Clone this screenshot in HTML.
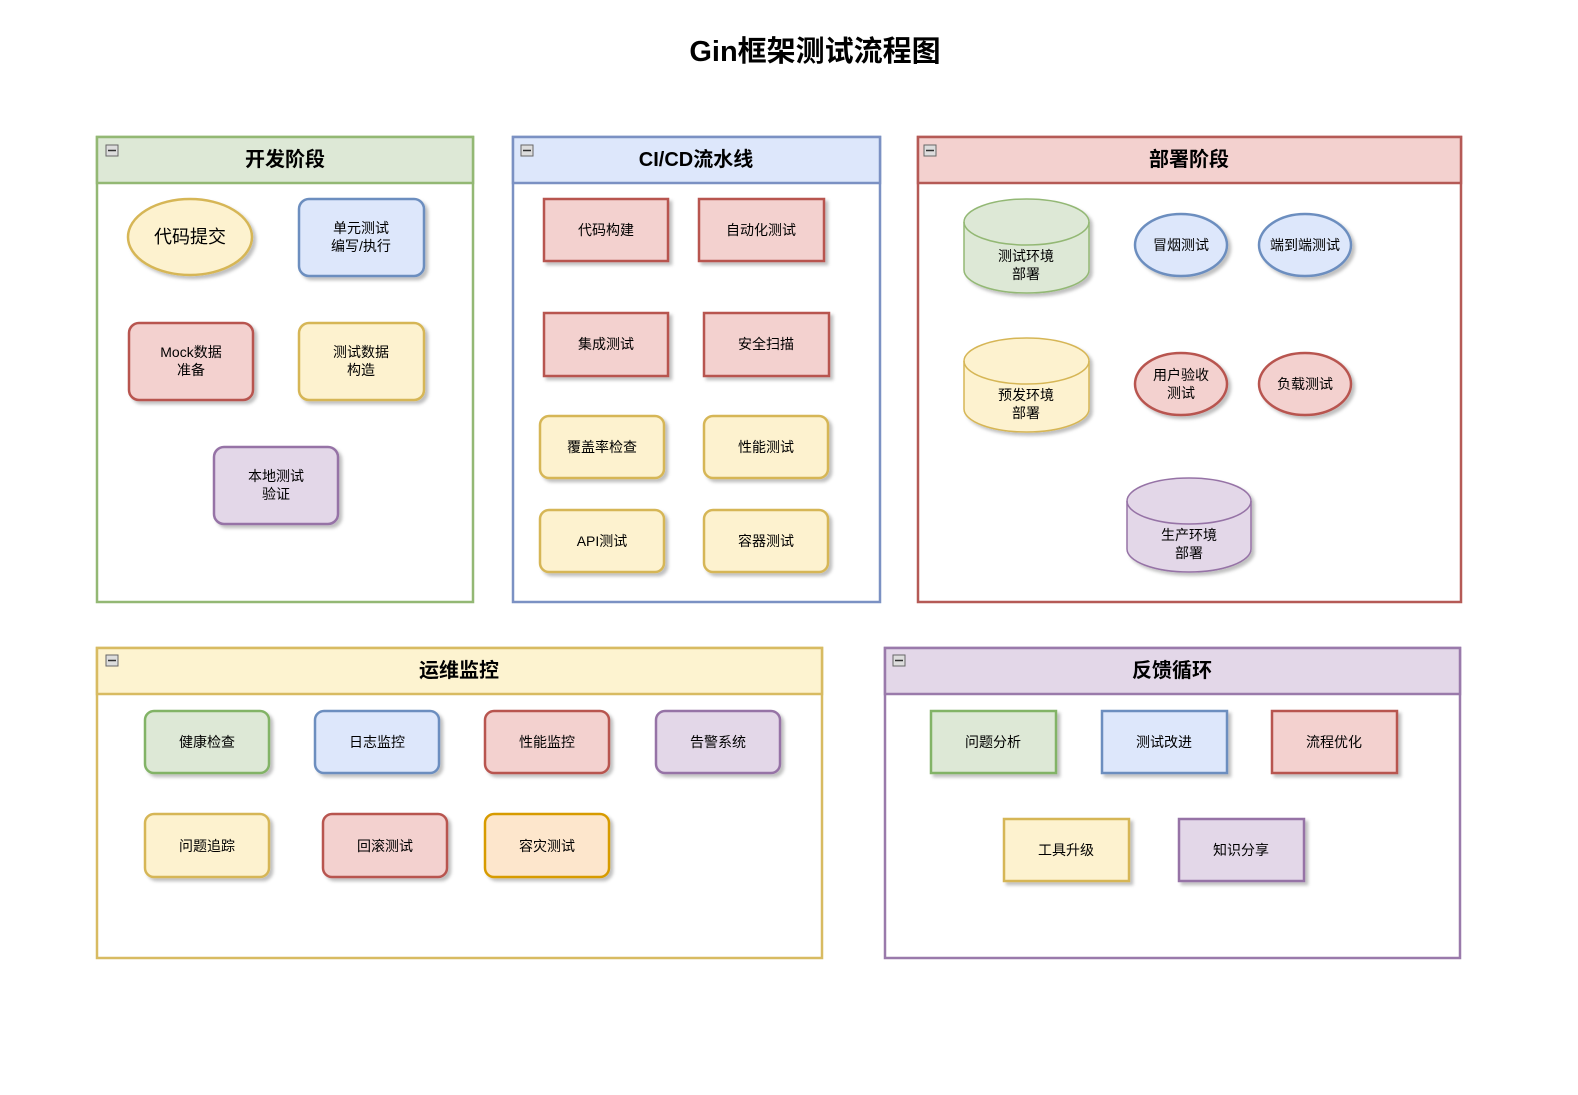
<!DOCTYPE html>
<html><head><meta charset="utf-8"><style>
body{margin:0;background:#fff;}
text{font-family:"Liberation Sans","Noto Sans CJK SC",sans-serif;fill:#000;}
.t{font-size:14px;text-anchor:middle;dominant-baseline:central;}
.h{font-size:20px;font-weight:bold;text-anchor:middle;dominant-baseline:central;}
</style></head><body>
<svg width="1578" height="1090" viewBox="0 0 1578 1090" xmlns="http://www.w3.org/2000/svg">
<defs><filter id="s" x="-20%" y="-20%" width="150%" height="150%"><feDropShadow dx="3" dy="3" stdDeviation="1.5" flood-color="#000" flood-opacity="0.25"/></filter></defs>
<text x="815" y="52" style="font-size:29px;font-weight:bold;text-anchor:middle;dominant-baseline:central">Gin框架测试流程图</text>

<!-- containers -->
<g stroke-width="2.5">
<rect x="97" y="137" width="376" height="465" fill="#fff" stroke="#93b874"/>
<rect x="97" y="137" width="376" height="46" fill="#dde8d6" stroke="#93b874"/>
<rect x="513" y="137" width="367" height="465" fill="#fff" stroke="#7b91c3"/>
<rect x="513" y="137" width="367" height="46" fill="#dde7fb" stroke="#7b91c3"/>
<rect x="918" y="137" width="543" height="465" fill="#fff" stroke="#b55a56"/>
<rect x="918" y="137" width="543" height="46" fill="#f3d1cf" stroke="#b55a56"/>
<rect x="97" y="648" width="725" height="310" fill="#fff" stroke="#d8bb62"/>
<rect x="97" y="648" width="725" height="46" fill="#fdf3d0" stroke="#d8bb62"/>
<rect x="885" y="648" width="575" height="310" fill="#fff" stroke="#9a7aab"/>
<rect x="885" y="648" width="575" height="46" fill="#e3d7e8" stroke="#9a7aab"/>
</g>
<g fill="#ddd" stroke="#666" stroke-width="1">
<rect x="106" y="145" width="12" height="11"/><rect x="521" y="145" width="12" height="11"/><rect x="924" y="145" width="12" height="11"/><rect x="106" y="655" width="12" height="11"/><rect x="893" y="655" width="12" height="11"/>
</g>
<g stroke="#333" stroke-width="1.5">
<line x1="108" y1="150.5" x2="116" y2="150.5"/><line x1="523" y1="150.5" x2="531" y2="150.5"/><line x1="926" y1="150.5" x2="934" y2="150.5"/><line x1="108" y1="660.5" x2="116" y2="660.5"/><line x1="895" y1="660.5" x2="903" y2="660.5"/>
</g>
<text class="h" x="285" y="160">开发阶段</text>
<text class="h" x="696" y="160">CI/CD流水线</text>
<text class="h" x="1189" y="160">部署阶段</text>
<text class="h" x="459" y="671">运维监控</text>
<text class="h" x="1172" y="671">反馈循环</text>

<g stroke-width="2.5" filter="url(#s)">
<!-- dev -->
<ellipse cx="190" cy="237" rx="62" ry="38" fill="#fdf2cf" stroke="#d6b656"/>
<rect x="299" y="199" width="125" height="77" rx="10" fill="#dde7fb" stroke="#6c8ebf"/>
<rect x="129" y="323" width="124" height="77" rx="10" fill="#f3d1cf" stroke="#b85450"/>
<rect x="299" y="323" width="125" height="77" rx="10" fill="#fdf2cf" stroke="#d6b656"/>
<rect x="214" y="447" width="124" height="77" rx="10" fill="#e3d7e8" stroke="#9673a6"/>
<!-- ci -->
<rect x="544" y="199" width="124" height="62" fill="#f3d1cf" stroke="#b85450"/>
<rect x="699" y="199" width="125" height="62" fill="#f3d1cf" stroke="#b85450"/>
<rect x="544" y="313" width="124" height="63" fill="#f3d1cf" stroke="#b85450"/>
<rect x="704" y="313" width="125" height="63" fill="#f3d1cf" stroke="#b85450"/>
<rect x="540" y="416" width="124" height="62" rx="9" fill="#fdf2cf" stroke="#d6b656"/>
<rect x="704" y="416" width="124" height="62" rx="9" fill="#fdf2cf" stroke="#d6b656"/>
<rect x="540" y="510" width="124" height="62" rx="9" fill="#fdf2cf" stroke="#d6b656"/>
<rect x="704" y="510" width="124" height="62" rx="9" fill="#fdf2cf" stroke="#d6b656"/>
<!-- deploy -->
<path d="M964 222 A62.5 23 0 0 1 1089 222 V270 A62.5 23 0 0 1 964 270 Z" fill="#dde8d6" stroke="#93b874" stroke-width="1.5"/>
<path d="M964 361 A62.5 23 0 0 1 1089 361 V409 A62.5 23 0 0 1 964 409 Z" fill="#fdf2cf" stroke="#d6b656" stroke-width="1.5"/>
<path d="M1127 501 A62 23 0 0 1 1251 501 V549 A62 23 0 0 1 1127 549 Z" fill="#e3d7e8" stroke="#9673a6" stroke-width="1.5"/>
<ellipse cx="1181" cy="245" rx="46" ry="31" fill="#dde7fb" stroke="#6c8ebf"/>
<ellipse cx="1305" cy="245" rx="46" ry="31" fill="#dde7fb" stroke="#6c8ebf"/>
<ellipse cx="1181" cy="384" rx="46" ry="31" fill="#f3d1cf" stroke="#b85450"/>
<ellipse cx="1305" cy="384" rx="46" ry="31" fill="#f3d1cf" stroke="#b85450"/>
<!-- ops -->
<rect x="145" y="711" width="124" height="62" rx="9" fill="#dde8d6" stroke="#82b366"/>
<rect x="315" y="711" width="124" height="62" rx="9" fill="#dde7fb" stroke="#6c8ebf"/>
<rect x="485" y="711" width="124" height="62" rx="9" fill="#f3d1cf" stroke="#b85450"/>
<rect x="656" y="711" width="124" height="62" rx="9" fill="#e3d7e8" stroke="#9673a6"/>
<rect x="145" y="814" width="124" height="63" rx="9" fill="#fdf2cf" stroke="#d6b656"/>
<rect x="323" y="814" width="124" height="63" rx="9" fill="#f3d1cf" stroke="#b85450"/>
<rect x="485" y="814" width="124" height="63" rx="9" fill="#fde6cc" stroke="#d79b00"/>
<!-- feedback -->
<rect x="931" y="711" width="125" height="62" fill="#dde8d6" stroke="#82b366"/>
<rect x="1102" y="711" width="125" height="62" fill="#dde7fb" stroke="#6c8ebf"/>
<rect x="1272" y="711" width="125" height="62" fill="#f3d1cf" stroke="#b85450"/>
<rect x="1004" y="819" width="125" height="62" fill="#fdf2cf" stroke="#d6b656"/>
<rect x="1179" y="819" width="125" height="62" fill="#e3d7e8" stroke="#9673a6"/>
</g>
<g fill="none" stroke-width="1.5">
<path d="M964 222 A62.5 23 0 0 0 1089 222" stroke="#93b874"/>
<path d="M964 361 A62.5 23 0 0 0 1089 361" stroke="#d6b656"/>
<path d="M1127 501 A62 23 0 0 0 1251 501" stroke="#9673a6"/>
</g>

<text class="t" x="190" y="237" style="font-size:18px">代码提交</text>
<text class="t" x="361" y="228">单元测试</text><text class="t" x="361" y="246">编写/执行</text>
<text class="t" x="191" y="352">Mock数据</text><text class="t" x="191" y="370">准备</text>
<text class="t" x="361" y="352">测试数据</text><text class="t" x="361" y="370">构造</text>
<text class="t" x="276" y="476">本地测试</text><text class="t" x="276" y="494">验证</text>

<text class="t" x="606" y="230">代码构建</text>
<text class="t" x="761" y="230">自动化测试</text>
<text class="t" x="606" y="344">集成测试</text>
<text class="t" x="766" y="344">安全扫描</text>
<text class="t" x="602" y="447">覆盖率检查</text>
<text class="t" x="766" y="447">性能测试</text>
<text class="t" x="602" y="541">API测试</text>
<text class="t" x="766" y="541">容器测试</text>

<text class="t" x="1026" y="256">测试环境</text><text class="t" x="1026" y="274">部署</text>
<text class="t" x="1026" y="395">预发环境</text><text class="t" x="1026" y="413">部署</text>
<text class="t" x="1189" y="535">生产环境</text><text class="t" x="1189" y="553">部署</text>
<text class="t" x="1181" y="245">冒烟测试</text>
<text class="t" x="1305" y="245">端到端测试</text>
<text class="t" x="1181" y="375">用户验收</text><text class="t" x="1181" y="393">测试</text>
<text class="t" x="1305" y="384">负载测试</text>

<text class="t" x="207" y="742">健康检查</text>
<text class="t" x="377" y="742">日志监控</text>
<text class="t" x="547" y="742">性能监控</text>
<text class="t" x="718" y="742">告警系统</text>
<text class="t" x="207" y="846">问题追踪</text>
<text class="t" x="385" y="846">回滚测试</text>
<text class="t" x="547" y="846">容灾测试</text>

<text class="t" x="993" y="742">问题分析</text>
<text class="t" x="1164" y="742">测试改进</text>
<text class="t" x="1334" y="742">流程优化</text>
<text class="t" x="1066" y="850">工具升级</text>
<text class="t" x="1241" y="850">知识分享</text>
</svg>
</body></html>
